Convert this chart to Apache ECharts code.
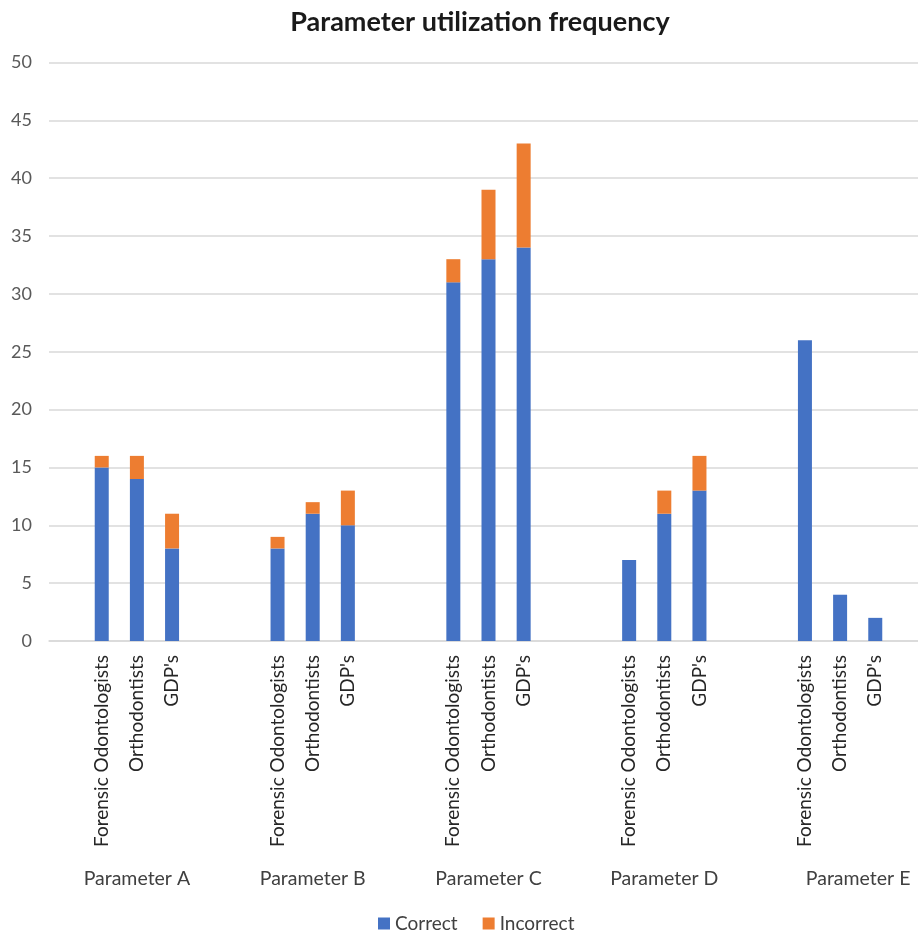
<!DOCTYPE html>
<html>
<head>
<meta charset="utf-8">
<script src="https://cdn.jsdelivr.net/npm/echarts@6/dist/echarts.min.js"></script>
<style>
  html, body { margin: 0; padding: 0; background: #ffffff; }
  #chart { width: 918px; height: 937px; }
</style>
</head>
<body>
<div id="chart"></div>
<script>
// Parameter groups and the respondent groups inside each of them
const parameters = ['Parameter A', 'Parameter B', 'Parameter C', 'Parameter D', 'Parameter E'];
const respondents = ['Forensic Odontologists', 'Orthodontists', "GDP's"];

// Counts per parameter, in the order of `respondents`
const correctCounts = [
  [15, 14, 8],
  [8, 11, 10],
  [31, 33, 34],
  [7, 11, 13],
  [26, 4, 2]
];
const incorrectCounts = [
  [1, 2, 3],
  [1, 1, 3],
  [2, 6, 9],
  [0, 2, 3],
  [0, 0, 0]
];

const yTicks = { min: 0, max: 50, step: 5 };

// Each parameter occupies five slots: an empty one on each side of its three bars
const slotCategories = [];
const correctData = [];
const incorrectData = [];
parameters.forEach((p, gi) => {
  slotCategories.push(p + '|pre');
  correctData.push('-');
  incorrectData.push('-');
  respondents.forEach((r, ri) => {
    slotCategories.push(p + '|' + r);
    correctData.push(correctCounts[gi][ri]);
    incorrectData.push(incorrectCounts[gi][ri]);
  });
  slotCategories.push(p + '|post');
  correctData.push('-');
  incorrectData.push('-');
});

const FONT = 'Lato';
const chart = echarts.init(document.getElementById('chart'), null, { renderer: 'canvas' });

chart.setOption({
  animation: false,
  backgroundColor: '#ffffff',
  textStyle: { fontFamily: FONT },
  title: {
    text: 'Parameter utilization frequency',
    left: 475,
    top: 4,
    textAlign: 'center',
    textStyle: { fontFamily: FONT, fontSize: 27, fontWeight: 'bold', color: '#1a1a1a' }
  },
  legend: {
    data: ['Correct', 'Incorrect'],
    left: 373,
    top: 909,
    icon: 'rect',
    itemWidth: 12,
    itemHeight: 12,
    itemGap: 25,
    textStyle: { fontFamily: FONT, fontSize: 19, color: '#404040' }
  },
  grid: {
    left: 49,
    top: 62.5,
    width: 879,
    bottom: 296,
    containLabel: false,
    outerBoundsMode: 'none'
  },
  xAxis: [
    {
      type: 'category',
      data: slotCategories,
      position: 'bottom',
      axisLine: { show: true, lineStyle: { color: '#d9d9d9', width: 1.5 } },
      axisTick: { show: false },
      splitLine: { show: false },
      axisLabel: {
        interval: 0,
        rotate: 90,
        margin: 14,
        fontFamily: FONT,
        fontSize: 19,
        color: '#262626',
        formatter: v => {
          const part = v.split('|')[1];
          return (part === 'pre' || part === 'post') ? '' : part;
        }
      }
    },
    {
      type: 'category',
      data: parameters.map((p, i) => i === parameters.length - 1
        ? { value: p, textStyle: { padding: [0, 0, 0, 36] } }
        : p),
      position: 'bottom',
      offset: 0,
      axisLine: { show: false },
      axisTick: { show: false },
      splitLine: { show: false },
      axisLabel: {
        interval: 0,
        margin: 228,
        fontFamily: FONT,
        fontSize: 19.5,
        color: '#404040'
      }
    }
  ],
  yAxis: {
    type: 'value',
    min: yTicks.min,
    max: yTicks.max,
    interval: yTicks.step,
    axisLine: { show: false },
    axisTick: { show: false },
    splitLine: { show: true, lineStyle: { color: '#d9d9d9', width: 1.5 } },
    axisLabel: {
      margin: 17,
      fontFamily: FONT,
      fontSize: 18,
      color: '#595959'
    }
  },
  series: [
    {
      name: 'Correct',
      type: 'bar',
      stack: 'total',
      xAxisIndex: 0,
      barWidth: 14,
      itemStyle: { color: '#4472C4' },
      data: correctData
    },
    {
      name: 'Incorrect',
      type: 'bar',
      stack: 'total',
      xAxisIndex: 0,
      barWidth: 14,
      itemStyle: { color: '#ED7D31' },
      data: incorrectData
    }
  ]
});
</script>
</body>
</html>
